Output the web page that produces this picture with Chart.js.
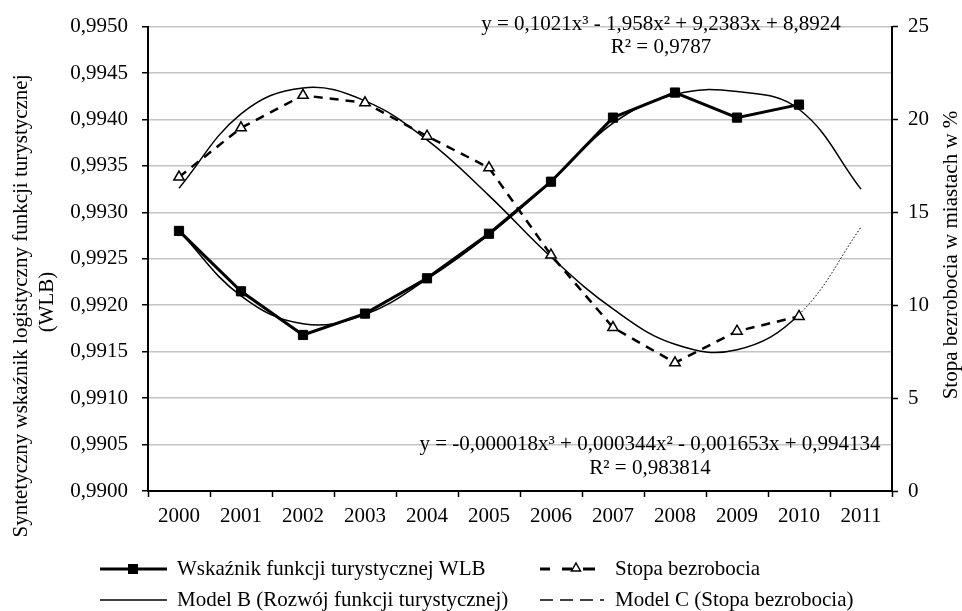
<!DOCTYPE html>
<html>
<head>
<meta charset="utf-8">
<script src="https://cdn.jsdelivr.net/npm/chart.js@4"></script>
<style>
  body { margin: 0; background: #fff; }
</style>
</head>
<body>
<canvas id="grafico" width="962" height="611"></canvas>
<script>
// lata (kategorie)
var lata = ['2000', '2001', '2002', '2003', '2004', '2005', '2006', '2007', '2008', '2009', '2010', '2011'];

// Wskaznik funkcji turystycznej WLB (lewa os)
var wlb = [0.9928, 0.99215, 0.99168, 0.99191, 0.99229, 0.99277, 0.99333, 0.99402, 0.99429, 0.99402, 0.99416, null];
// Stopa bezrobocia w % (prawa os)
var stopa = [16.9, 19.55, 21.3, 20.9, 19.1, 17.4, 12.7, 8.8, 6.9, 8.6, 9.4, null];
// linie trendu
var modelB = [0.9928, 0.9921, 0.9918, 0.9919, 0.99228, 0.99276, 0.99333, 0.99396, 0.99427, 0.9943, 0.99411, 0.99325];
var modelC = [16.3, 20.3, 21.7, 21.0, 18.9, 15.9, 12.6, 9.8, 7.9, 7.6, 9.5, 14.2];

// osie
var osLewaMin = 0.99, osLewaMax = 0.995, osLewaKrok = 0.0005;
var osPrawaMin = 0, osPrawaMax = 25, osPrawaKrok = 5;

// teksty
var tytulLewy = ['Syntetyczny wskaźnik logistyczny funkcji turystycznej', '(WLB)'];
var tytulPrawy = 'Stopa bezrobocia w miastach w %';
var rownanieC = ['y = 0,1021x³ - 1,958x² + 9,2383x + 8,8924', 'R² = 0,9787'];
var rownanieB = ['y = -0,000018x³ + 0,000344x² - 0,001653x + 0,994134', 'R² = 0,983814'];
var legenda = ['Wskaźnik funkcji turystycznej WLB', 'Model B (Rozwój funkcji turystycznej)', 'Stopa bezrobocia', 'Model C (Stopa bezrobocia)'];

var czcionka = '"Liberation Serif", "Times New Roman", serif';
Chart.defaults.font.family = czcionka;
Chart.defaults.font.size = 21;
Chart.defaults.color = '#000';

function linia(ctx, x1, x2, y, szer, kreski) {
    ctx.beginPath();
    ctx.lineWidth = szer;
    ctx.setLineDash(kreski);
    ctx.moveTo(x1, y);
    ctx.lineTo(x2, y);
    ctx.stroke();
    ctx.setLineDash([]);
}

function trojkat(ctx, x, y, r) {
    ctx.beginPath();
    ctx.moveTo(x, y - r);
    ctx.lineTo(x + r * 0.9, y + r * 0.6);
    ctx.lineTo(x - r * 0.9, y + r * 0.6);
    ctx.closePath();
    ctx.fillStyle = '#fff';
    ctx.fill();
    ctx.lineWidth = 1.5;
    ctx.stroke();
}

// tytuly osi, rownania i legenda
var tekstyPlugin = {
    id: 'teksty',
    afterDraw: function (chart) {
        var ctx = chart.ctx;
        ctx.save();
        ctx.fillStyle = '#000';
        ctx.strokeStyle = '#000';
        ctx.font = '21px ' + czcionka;
        ctx.textAlign = 'center';
        ctx.textBaseline = 'middle';

        ctx.fillText(rownanieC[0], 661, 24);
        ctx.fillText(rownanieC[1], 661, 47);
        ctx.fillText(rownanieB[0], 650, 444);
        ctx.fillText(rownanieB[1], 650, 468);

        ctx.save();
        ctx.translate(21, 306);
        ctx.rotate(-Math.PI / 2);
        ctx.fillText(tytulLewy[0], 0, 0);
        ctx.fillText(tytulLewy[1], 4, 26);
        ctx.restore();

        ctx.save();
        ctx.translate(951, 255);
        ctx.rotate(-Math.PI / 2);
        ctx.fillText(tytulPrawy, 0, 0);
        ctx.restore();

        // legenda
        ctx.textAlign = 'left';
        linia(ctx, 100, 167, 569, 3, []);
        ctx.fillRect(128, 564, 10, 10);
        ctx.fillText(legenda[0], 177, 569);

        linia(ctx, 100, 167, 600, 1.5, []);
        ctx.fillText(legenda[1], 177, 600);

        linia(ctx, 540, 550, 569, 3, []);
        linia(ctx, 562, 572, 569, 3, []);
        linia(ctx, 583, 595, 569, 3, []);
        trojkat(ctx, 576, 568, 5);
        ctx.fillStyle = '#000';
        ctx.fillText(legenda[2], 615, 569);

        linia(ctx, 540, 604, 600, 1.5, [13, 7]);
        ctx.fillText(legenda[3], 615, 600);
        ctx.restore();
    }
};

var data = {
    labels: lata,
    datasets: [{
        label: legenda[0],
        data: wlb,
        yAxisID: 'y',
        borderColor: '#000',
        backgroundColor: '#000',
        borderWidth: 3,
        pointStyle: 'rect',
        pointRadius: 6.5,
        pointBorderWidth: 1,
        tension: 0
    },
    {
        label: legenda[2],
        data: stopa,
        yAxisID: 'y1',
        borderColor: '#000',
        backgroundColor: '#fff',
        borderWidth: 2.5,
        borderDash: [9, 7],
        pointStyle: 'triangle',
        pointRadius: 6,
        pointBorderWidth: 1.5,
        tension: 0
    },
    {
        label: legenda[1],
        data: modelB,
        yAxisID: 'y',
        borderColor: '#000',
        borderWidth: 1.5,
        pointRadius: 0,
        tension: 0.4
    },
    {
        label: legenda[3],
        data: modelC,
        yAxisID: 'y1',
        borderColor: '#000',
        borderWidth: 1.5,
        pointRadius: 0,
        tension: 0.4,
        segment: {
            borderDash: function (c) { return c.p0DataIndex >= 10 ? [1.5, 2] : undefined; },
            borderWidth: function (c) { return c.p0DataIndex >= 10 ? 1 : undefined; }
        }
    }]
};

var options = {
    responsive: false,
    animation: false,
    layout: { padding: { top: 20, bottom: 80, left: 0, right: 0 } },
    plugins: {
        legend: { display: false },
        tooltip: { enabled: false }
    },
    scales: {
        x: {
            offset: true,
            grid: { offset: true, drawOnChartArea: false, tickColor: '#000', tickWidth: 1.5, tickLength: 6 },
            border: { color: '#000', width: 2 },
            ticks: { padding: 7, maxRotation: 0 },
            afterFit: function (s) { s.height = 40; }
        },
        y: {
            position: 'left',
            min: osLewaMin,
            max: osLewaMax,
            grid: { color: '#c4c4c4', lineWidth: 1.5, tickColor: '#000', tickWidth: 1.5, tickLength: 6 },
            border: { color: '#000', width: 2 },
            ticks: {
                stepSize: osLewaKrok,
                padding: 14,
                callback: function (v) { return v.toFixed(4).replace('.', ','); }
            },
            afterFit: function (s) { s.width = 148; }
        },
        y1: {
            position: 'right',
            min: osPrawaMin,
            max: osPrawaMax,
            grid: { drawOnChartArea: false, tickColor: '#000', tickWidth: 1.5, tickLength: 6 },
            border: { color: '#000', width: 2 },
            ticks: { stepSize: osPrawaKrok, padding: 10 },
            afterFit: function (s) { s.width = 70; }
        }
    }
};

var ctx = document.querySelector('#grafico').getContext('2d');
var wykres = new Chart(ctx, {
    type: 'line',
    data: data,
    options: options,
    plugins: [tekstyPlugin]
});
</script>
</body>
</html>
